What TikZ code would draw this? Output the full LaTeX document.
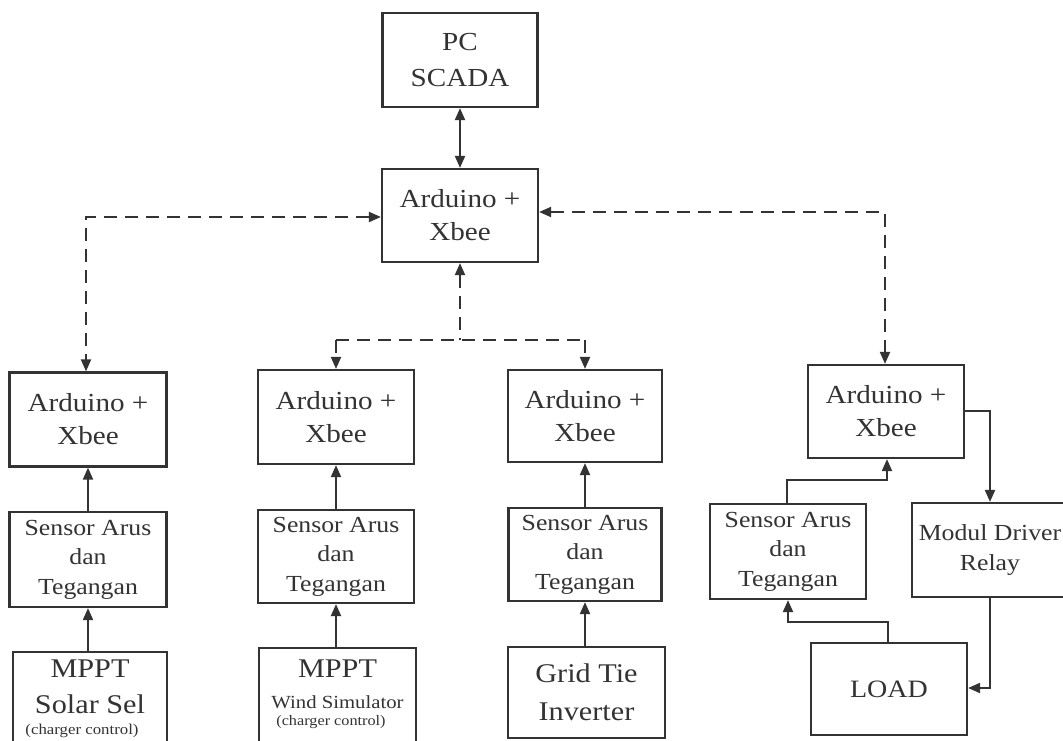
\documentclass[tikz,border=0pt]{standalone}
\usepackage{fontspec}
\setmainfont{Liberation Serif}[FakeStretch=1.12]
\usetikzlibrary{arrows.meta}
\tikzset{
  box/.style={draw=black!80, line width=2.2pt, inner sep=0pt, align=center, text=black!80},
  ardtxt/.style={font=\fontsize{26}{33}\selectfont},
  sentxt/.style={font=\fontsize{23}{29.5}\selectfont},
  bigtxt/.style={font=\fontsize{27}{38}\selectfont},
  lbl/.style={inner sep=0pt, anchor=base, text=black!80},
  conn/.style={draw=black!80, line width=2pt},
  tipend/.style={-{Triangle[length=12pt,width=10pt]}},
  tipboth/.style={{Triangle[length=12pt,width=10pt]}-{Triangle[length=12pt,width=10pt]}},
  tipstart/.style={{Triangle[length=12pt,width=10pt]}-},
  wire/.style={conn, dash pattern=on 13pt off 8pt},
}
\begin{document}
\begin{tikzpicture}[x=1pt,y=-1pt]
\useasboundingbox (0,0) rectangle (1063,740);
\clip (0,0) rectangle (1063,740);
\fill[white] (0,0) rectangle (1063,740);

% boxes
\node[box, font=\fontsize{26}{36}\selectfont, minimum width=155pt, minimum height=94pt] (pc) at (460,60) {PC\\SCADA};
\node[box, ardtxt, minimum width=156pt, minimum height=93pt] (ard0) at (460,215.5) {Arduino +\\Xbee};
\node[box, ardtxt, minimum width=157pt, minimum height=94pt] (ard1) at (88,419.5) {Arduino +\\Xbee};
\node[box, ardtxt, minimum width=156pt, minimum height=94pt] (ard2) at (336,417) {Arduino +\\Xbee};
\node[box, ardtxt, minimum width=154pt, minimum height=92pt] (ard3) at (585,416) {Arduino +\\Xbee};
\node[box, ardtxt, minimum width=156pt, minimum height=93pt] (ard4) at (886,411.5) {Arduino +\\Xbee};

\node[box, sentxt, minimum width=157pt, minimum height=95pt] (sen1) at (88,559.5) {Sensor Arus\\dan\\Tegangan};
\node[box, sentxt, minimum width=156pt, minimum height=93pt] (sen2) at (336,556.5) {Sensor Arus\\dan\\Tegangan};
\node[box, sentxt, minimum width=153pt, minimum height=93pt] (sen3) at (585,554.5) {Sensor Arus\\dan\\Tegangan};
\node[box, sentxt, minimum width=156pt, minimum height=95pt] (sen4) at (788,551.5) {Sensor Arus\\dan\\Tegangan};
\node[box, sentxt, minimum width=156pt, minimum height=94pt] (relay) at (990,550) {Modul Driver\\Relay};
\node[box, font=\fontsize{25}{30}\selectfont, minimum width=156pt, minimum height=92pt] (load) at (889,689) {LOAD};

\node[box, minimum width=154pt, minimum height=100pt] (mppt1) at (90,702) {};
\node[box, minimum width=157pt, minimum height=102pt] (mppt2) at (337.5,699) {};
\node[box, bigtxt, minimum width=157pt, minimum height=91pt] (grid) at (586.5,692.5) {Grid Tie\\Inverter};

% text inside the clipped MPPT boxes
\node[lbl, font=\fontsize{27}{30}\selectfont] (m1a) at (90,677) {MPPT};
\node[lbl, font=\fontsize{27}{30}\selectfont] (m1b) at (90,713) {Solar Sel};
\node[lbl, font=\fontsize{15}{16}\selectfont] (m1c) at (82,734) {(charger control)};
\node[lbl, font=\fontsize{27}{30}\selectfont] (m2a) at (337.5,677) {MPPT};
\node[lbl, font=\fontsize{18.5}{22}\selectfont] (m2b) at (337.5,708) {Wind Simulator};
\node[lbl, font=\fontsize{14.5}{16}\selectfont] (m2c) at (331,725) {(charger control)};

% PC <-> Arduino
\draw[conn, tipboth] (pc.south) -- (ard0.north);

% dashed wireless links
\coordinate (lc) at (86,217);
\draw[wire, tipboth] (ard0.west |- lc) -- (lc) -- (lc |- ard1.north);
\coordinate (rc) at (885,212);
\draw[wire, tipboth] (ard0.east |- rc) -- (rc) -- (rc |- ard4.north);
\coordinate (mc) at (460,340);
\coordinate (ml) at (336,340);
\coordinate (mr) at (585,340);
\draw[wire, tipstart] (mc |- ard0.south) -- (mc);
\draw[wire] (ml) -- (mr);
\draw[wire, tipend] (ml) -- (ard2.north);
\draw[wire, tipend] (mr) -- (ard3.north);

% sensor -> arduino
\draw[conn, tipend] (sen1.north) -- (ard1.south);
\draw[conn, tipend] (sen2.north) -- (ard2.south);
\draw[conn, tipend] (sen3.north) -- (ard3.south);
% source -> sensor
\draw[conn, tipend] (mppt1.north -| sen1.north) -- (sen1.south);
\draw[conn, tipend] (mppt2.north -| sen2.north) -- (sen2.south);
\draw[conn, tipend] (grid.north -| sen3.north) -- (sen3.south);

% right group
\coordinate (s4a) at (787,480);
\coordinate (s4b) at (887,480);
\draw[conn, tipend] (s4a |- sen4.north) -- (s4a) -- (s4b) -- (s4b |- ard4.south);
\coordinate (rx) at (990,411);
\draw[conn, tipend] (ard4.east |- rx) -- (rx) -- (rx |- relay.north);
\coordinate (ry) at (990,688);
\draw[conn, tipend] (rx |- relay.south) -- (ry) -- (load.east |- ry);
\coordinate (la) at (888,622);
\coordinate (lb) at (788,622);
\draw[conn, tipend] (la |- load.north) -- (la) -- (lb) -- (lb |- sen4.south);
\end{tikzpicture}
\end{document}
